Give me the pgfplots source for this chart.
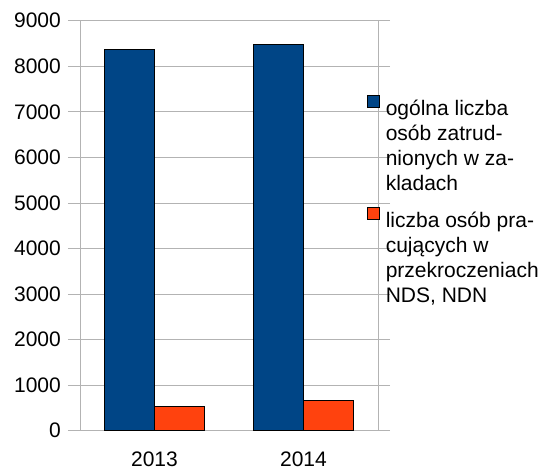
\documentclass[border=0pt]{standalone}
\usepackage{fontspec}
\setmainfont{Liberation Sans}
\usepackage{pgfplots}
\pgfplotsset{compat=1.18}
\definecolor{cblue}{HTML}{004586}
\definecolor{corange}{HTML}{FF420E}
\definecolor{gridgray}{HTML}{B3B3B3}
\begin{document}
\fontsize{21}{25}\selectfont
\begin{tikzpicture}
\useasboundingbox (0,0) rectangle (555pt,470pt);
\begin{axis}[
  at={(80pt,39.3pt)}, anchor=south west,
  scale only axis, width=298pt, height=410pt,
  ybar=0pt, bar width=50pt,
  xmin=-0.5, xmax=1.5, ymin=0, ymax=9000,
  xtick={0,1}, xticklabels={2013,2014},
  xtick style={draw=none},
  extra x ticks={-0.5,0.5,1.5}, extra x tick labels={},
  extra x tick style={grid=none, major tick length=11pt, tick style={gridgray, line width=0.8pt}},
  ytick={0,1000,...,9000},
  ymajorgrids, grid style={gridgray, line width=0.8pt},
  axis line style={gridgray, line width=0.8pt},
  tick align=outside, major tick length=12pt,
  ytick style={gridgray, line width=0.8pt},
  /pgf/number format/assume math mode=true,
  scaled y ticks=false,
  yticklabel style={/pgf/number format/1000 sep={}, font=\fontsize{21}{25}\selectfont},
  xticklabel style={font=\fontsize{21}{25}\selectfont, inner sep=0pt, yshift=-9pt},
  legend style={draw=none, fill=none, at={(axis description cs:1,1)}, anchor=north west,
    xshift=-11pt, yshift=-74pt, inner sep=0pt, row sep=11pt,
    /tikz/every odd column/.append style={column sep=4pt},
    font=\fontsize{21}{25}\selectfont, cells={anchor=north west, align=left}},
  legend image code/.code={\draw[#1, line width=0.6pt] (0pt,-9pt) rectangle (12pt,3pt);},
]
\addplot[fill=cblue, draw=black, line width=0.6pt] coordinates {(0,8378) (1,8488)};
\addplot[fill=corange, draw=black, line width=0.6pt] coordinates {(0,542) (1,658)};
\addlegendentry{ogólna liczba\\osób zatrud-\\nionych w za-\\kladach}
\addlegendentry{liczba osób pra-\\cujących w\\przekroczeniach\\NDS, NDN}
\end{axis}
\end{tikzpicture}
\end{document}
